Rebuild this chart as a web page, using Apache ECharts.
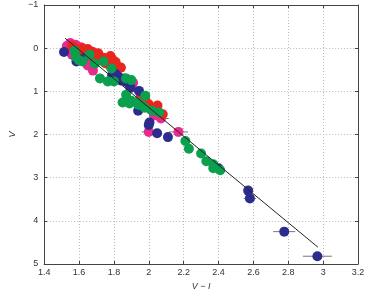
<!DOCTYPE html>
<html>
<head>
<meta charset="utf-8">
<script src="https://cdn.jsdelivr.net/npm/echarts@6/dist/echarts.min.js"></script>
<style>
html, body { margin: 0; padding: 0; background: #fff; }
#main { width: 368px; height: 296px; }
</style>
</head>
<body>
<div id="main"></div>
<script>
// 数据 (V-I, V)
var redPts = [[1.56,-0.05],[1.58,0.0],[1.60,0.05],[1.62,0.1],[1.64,0.08],[1.66,0.15],[1.68,0.2],[1.70,0.18],
    [1.72,0.28],[1.74,0.22],[1.77,0.3],[1.79,0.25],[1.80,0.38],[1.82,0.42],[1.84,0.45],[1.78,0.42],[1.65,0.02],
    [1.62,0.0],[1.67,0.08],[1.71,0.12],[1.75,0.35],[1.81,0.32],[1.78,0.18],
    [1.955,1.1],[2.0,1.3],[2.05,1.33],[2.08,1.53],[1.98,1.2]];
var magentaPts = [[1.53,-0.05],[1.55,-0.12],[1.57,0.0],[1.56,0.15],[1.59,0.08],[1.60,0.22],[1.62,0.05],[1.64,0.18],
    [1.58,-0.08],[1.68,0.09],[1.65,0.40],[1.68,0.52],[1.70,0.25],[1.54,0.05],[1.61,-0.02],[1.66,0.3],
    [1.91,0.80],[2.01,1.42],[2.03,1.56],[2.07,1.63],[2.00,1.94],[2.17,1.94]];
var bluePts = [[1.514,0.09],[1.585,0.31],[1.62,0.25],[1.79,0.63],[1.81,0.60],[1.83,0.68],[1.85,0.72],[1.87,0.78],
    [1.89,0.85],[1.895,0.92],[1.80,0.68],[1.82,0.64],[1.84,0.75],[1.86,0.70],[1.944,0.99],[1.939,1.45],
    [2.004,1.72],[2.00,1.78],[2.048,1.97],[2.11,2.06],
    [2.40,2.78],[2.57,3.30],[2.58,3.48],[2.777,4.25],[2.967,4.82]];
var greenPts = [[1.575,0.06],[1.58,0.2],[1.62,0.31],[1.60,0.28],[1.66,0.15],[1.69,0.36],[1.74,0.31],[1.786,0.47],
    [1.72,0.70],[1.765,0.77],[1.80,0.77],[1.87,0.70],[1.90,0.74],[1.87,1.08],[1.85,1.26],[1.90,1.22],[1.94,1.31],
    [1.96,1.33],[1.98,1.1],[1.977,1.38],[2.02,1.45],[2.06,1.49],[1.93,1.25],[1.89,1.28],
    [2.21,2.15],[2.23,2.33],[2.30,2.44],[2.33,2.62],[2.37,2.69],[2.37,2.78],[2.41,2.83]];
// 误差棒 [x, y, 半宽]
var errorBars = [[1.84,0.45,0.03],[2.07,1.63,0.045],[2.00,1.94,0.04],[2.17,1.94,0.055],
    [2.58,3.48,0.035],[2.777,4.25,0.063],[2.967,4.82,0.083]];
// 拟合直线
var fitLine = [[1.52,-0.23],[2.97,4.61]];
var xTicks = { min: 1.4, max: 3.2, step: 0.2 };
var yTicks = { min: -1, max: 5, step: 1 };

var myChart = echarts.init(document.getElementById('main'));

var labelStyle = { color: '#333', fontSize: 9, fontFamily: 'Liberation Sans' };
var frameLine = { onZero: false, lineStyle: { color: '#444', width: 1 } };
var gridLine = { show: true, lineStyle: { color: '#bbb', type: [1, 2], width: 1 } };

function dots(name, data, color) {
    return {
        name: name, type: 'scatter', data: data, symbolSize: 10,
        itemStyle: { color: color, opacity: 1 }, z: 3
    };
}

var option = {
    animation: false,
    grid: { left: 26, right: 10, top: 5, bottom: 26 },
    xAxis: [{
        type: 'value', min: xTicks.min, max: xTicks.max, interval: xTicks.step,
        axisLine: frameLine, axisTick: { inside: true, length: 3, lineStyle: { color: '#444' } },
        axisLabel: Object.assign({ margin: 4 }, labelStyle),
        splitLine: gridLine,
        name: 'V − I', nameLocation: 'middle', nameGap: 18,
        nameTextStyle: { fontStyle: 'italic', color: '#333', fontSize: 9, fontFamily: 'Liberation Sans' }
    }, {
        type: 'value', position: 'top', min: xTicks.min, max: xTicks.max, interval: xTicks.step,
        axisLine: frameLine, axisTick: { inside: true, length: 3, lineStyle: { color: '#444' } },
        axisLabel: { show: false }, splitLine: { show: false }
    }],
    yAxis: [{
        type: 'value', inverse: true, min: yTicks.min, max: yTicks.max, interval: yTicks.step,
        axisLine: frameLine, axisTick: { inside: true, length: 3, lineStyle: { color: '#444' } },
        axisLabel: Object.assign({ margin: 6, formatter: function (v) { return v < 0 ? '−' + (-v) : v; } }, labelStyle),
        splitLine: gridLine,
        name: 'V', nameLocation: 'middle', nameGap: 18, nameRotate: 90,
        nameTextStyle: { fontStyle: 'italic', color: '#333', fontSize: 9, fontFamily: 'Liberation Sans' }
    }, {
        type: 'value', position: 'right', inverse: true, min: yTicks.min, max: yTicks.max, interval: yTicks.step,
        axisLine: frameLine, axisTick: { inside: true, length: 3, lineStyle: { color: '#444' } },
        axisLabel: { show: false }, splitLine: { show: false }
    }],
    series: [
        {
            type: 'custom', data: errorBars, z: 2,
            renderItem: function (params, api) {
                var a = api.coord([api.value(0) - api.value(2), api.value(1)]);
                var b = api.coord([api.value(0) + api.value(2), api.value(1)]);
                return { type: 'line', shape: { x1: a[0], y1: a[1], x2: b[0], y2: b[1] },
                    style: { stroke: '#777', lineWidth: 1 } };
            }
        },
        dots('magenta', magentaPts, '#e82a8e'),
        dots('red', redPts, '#e8261e'),
        dots('blue', bluePts, '#2b2c8c'),
        dots('green', greenPts, '#0aa04e'),
        {
            type: 'line', data: fitLine, symbol: 'none', z: 4,
            lineStyle: { color: '#222', width: 1 }
        }
    ]
};
myChart.setOption(option);
</script>
</body>
</html>
